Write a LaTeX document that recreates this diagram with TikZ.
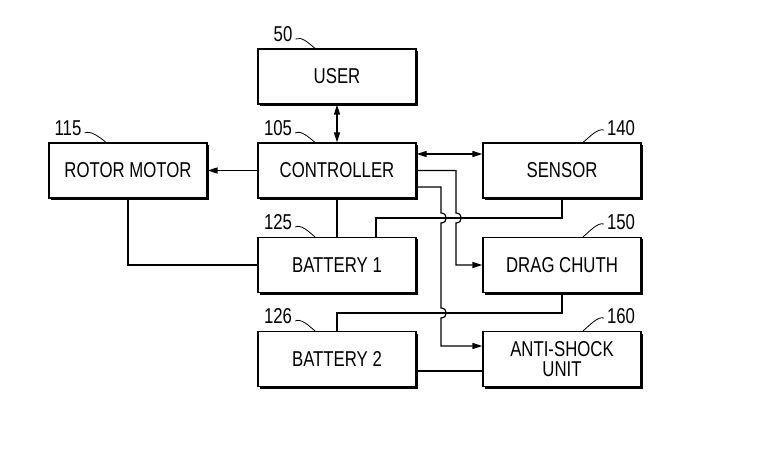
\documentclass[tikz,border=0pt]{standalone}
\usepackage{fontspec}
\setmainfont{Liberation Sans}[FakeStretch=0.78]
\usetikzlibrary{positioning}
\usetikzlibrary{arrows.meta}
\usetikzlibrary{shadows}
\begin{document}
\begin{tikzpicture}[
    x=1pt, y=-1pt,
    >={Triangle[length=10pt,width=6pt]},
    block/.style={rectangle, draw=black, line width=1.2pt, fill=white,
      minimum width=158pt, minimum height=55pt, inner sep=0pt, align=center,
      font=\fontsize{21.5}{21}\selectfont,
      drop shadow={shadow xshift=2pt, shadow yshift=-2pt, opacity=1, fill=black}},
    tag/.style={font=\fontsize{21.5}{20}\selectfont, inner sep=0pt},
    wire/.style={line width=1.2pt},
]
\useasboundingbox (0,0) rectangle (768,454);
% blocks
\node[block] (user)   at (337,76.5)  {USER};
\node[block] (ctrl)   at (337,170.5) {CONTROLLER};
\node[block] (rotor)  at (128,170.5) {ROTOR MOTOR};
\node[block] (sensor) at (562,170.5) {SENSOR};
\node[block] (bat1)   at (337,265)   {BATTERY 1};
\node[block] (drag)   at (562,265)   {DRAG CHUTH};
\node[block] (bat2)   at (337,359)   {BATTERY 2};
\node[block] (anti)   at (562,359)   {ANTI-SHOCK\\[-1pt]UNIT};
% reference numerals
\node[tag] (n50)  at (283,34)  {50};
\node[tag] (n105) at (278,128) {105};
\node[tag] (n115) at (68,128)  {115};
\node[tag] (n125) at (278,222) {125};
\node[tag] (n126) at (278,316) {126};
\node[tag] (n140) at (621,128) {140};
\node[tag] (n150) at (621,222) {150};
\node[tag] (n160) at (621,316) {160};
\foreach \n/\b in {n50/user, n105/ctrl, n115/rotor, n125/bat1, n126/bat2}
  \draw[line width=0.8pt] ([xshift=3pt,yshift=-5pt]\n.east) .. controls +(6,-3) and +(-6,-5) .. ([xshift=-22pt]\b.north);
\foreach \n/\b in {n140/sensor, n150/drag, n160/anti}
  \draw[line width=0.8pt] ([xshift=-3pt,yshift=-2pt]\n.west) .. controls +(-6,-2) and +(6,-5) .. ([xshift=21pt]\b.north);
% connectors
\draw[wire, <->] (user) -- (ctrl);
\draw[wire, ->] (ctrl) -- (rotor);
\draw[wire, <->] ([yshift=16.5pt]ctrl.east) -- ([yshift=16.5pt]sensor.west);
\draw[wire] (ctrl) -- (bat1);
\draw[wire] (rotor) |- (bat1);
\draw[wire, ->] (ctrl.east) -- (456,170.5) -- (456,213)
  .. controls (463,213) and (463,223) .. (456,223) |- (drag);
\draw[wire, ->] ([yshift=-16.5pt]ctrl.east) -- (441,187) -- (441,213)
  .. controls (448,213) and (448,223) .. (441,223) -- (441,308)
  .. controls (448,308) and (448,318) .. (441,318) |- ([yshift=13pt]anti.west);
\coordinate (s1) at (562,218);
\draw[wire] (sensor) -- (s1) -| ([xshift=39pt]bat1.north);
\coordinate (d1) at (562,313);
\draw[wire] (drag) -- (d1) -| (bat2);
\draw[wire] ([yshift=-12pt]bat2.east) -- ([yshift=-12pt]anti.west);
\end{tikzpicture}
\end{document}
